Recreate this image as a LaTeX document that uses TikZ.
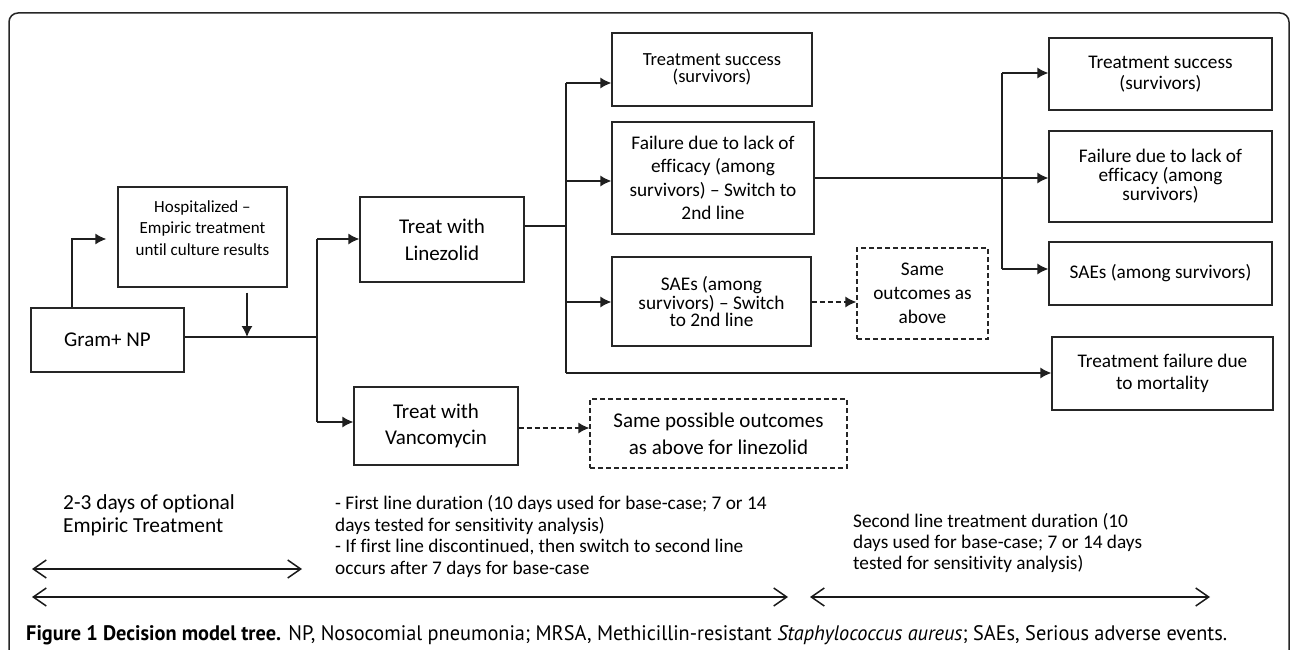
\documentclass[tikz,border=0pt]{standalone}
\usepackage{fontspec}
\usepackage{graphicx}
\setmainfont{Carlito}[Ligatures={NoCommon,NoContextual}, RawFeature={-liga;-clig;-dlig;-calt}]
\newfontfamily\capfont{PT Sans}
\usetikzlibrary{arrows.meta,calc}
\begin{document}
\begin{tikzpicture}[x=1pt,y=-1pt,
  box/.style={draw=black!85, line width=1.3pt, inner sep=0pt, align=center, text=black},
  dbox/.style={box, dash pattern=on 5pt off 3pt},
  conn/.style={line width=1.3pt, draw=black!88},
  arr/.style={conn, -{Latex[length=11pt,width=11pt]}},
  darr/.style={arr, dash pattern=on 5pt off 3pt},
  span/.style={line width=1.5pt, draw=black!90, {Straight Barb[length=13pt,width=18pt]}-{Straight Barb[length=13pt,width=18pt]}},
  note/.style={anchor=west, align=left, inner sep=0pt, text=black}]

\useasboundingbox (0,0) rectangle (1290,650);
\fill[white] (0,0) rectangle (1290,650);
\begin{scope}
\clip (0,0) rectangle (1290,650);
\draw[line width=1.5pt, draw=black!85, rounded corners=9pt] (9,670) -- (9,13) -- (1289,13) -- (1289,670);
\end{scope}

% boxes
\node[box, minimum width=169pt, minimum height=100pt] (hosp) at (202.5,237) {};
\node[align=center, inner sep=0pt, text=black, font=\fontsize{17}{21.5}\selectfont] (hosptxt) at (202.5,228) {Hospitalized --\\Empiric treatment\\until culture results};
\node[box, minimum width=153pt, minimum height=64pt, font=\fontsize{21}{26}\selectfont] (gram) at (107.5,340) {Gram+ NP};
\node[box, minimum width=164pt, minimum height=85pt, font=\fontsize{21}{27}\selectfont] (lin) at (442,239.5) {Treat with\\Linezolid};
\node[box, minimum width=164pt, minimum height=78pt, font=\fontsize{21}{26}\selectfont] (van) at (436,426) {Treat with\\Vancomycin};
\node[dbox, minimum width=257pt, minimum height=69pt, font=\fontsize{21}{27}\selectfont] (vdash) at (718.5,433.5) {Same possible outcomes\\as above for linezolid};

\node[box, minimum width=200pt, minimum height=73pt, font=\fontsize{18.5}{17}\selectfont] (ts1) at (712,69.5) {Treatment success\\(survivors)};
\node[box, minimum width=202pt, minimum height=112pt, font=\fontsize{19.3}{23.5}\selectfont] (f1) at (713,178) {Failure due to lack of\\efficacy (among\\survivors) -- Switch to\\2nd line};
\node[box, minimum width=199pt, minimum height=89pt, font=\fontsize{19.3}{16}\selectfont] (sae1) at (711.5,301.5) {SAEs (among\\survivors) -- Switch\\to 2nd line};
\node[dbox, minimum width=131pt, minimum height=91pt, font=\fontsize{19.3}{24}\selectfont] (sdash) at (922.5,293.5) {Same\\outcomes as\\above};

\node[box, minimum width=223pt, minimum height=72pt, font=\fontsize{19.3}{21}\selectfont] (ts2) at (1160.5,74) {Treatment success\\(survivors)};
\node[box, minimum width=223pt, minimum height=91pt, font=\fontsize{19.3}{19}\selectfont] (f2) at (1160.5,176.5) {Failure due to lack of\\efficacy (among\\survivors)};
\node[box, minimum width=223pt, minimum height=63pt, font=\fontsize{19.3}{21}\selectfont] (sae2) at (1160.5,273.5) {SAEs (among survivors)};
\node[box, minimum width=221pt, minimum height=73pt, font=\fontsize{19.3}{22}\selectfont] (mort) at (1162.5,373.5) {Treatment failure due\\to mortality};

% connectors
\coordinate (hup) at (72,239);
\draw[arr, shorten >=11pt] (hup |- gram.north) -- (hup) -- (hosp.west |- hup);
\coordinate (j1) at (247,337);
\draw[arr, shorten <=5pt] (hosp.south -| j1) -- (j1);
\coordinate (s1) at (317,337);
\coordinate (s1t) at (317,239);
\coordinate (s1b) at (317,422);
\draw[conn] (gram.east |- s1) -- (s1);
\draw[conn] (s1t) -- (s1b);
\draw[arr] (s1t) -- (lin.west |- s1t);
\draw[arr] (s1b) -- (van.west |- s1b);
\draw[darr] (van.east |- 0,428) -- (vdash.west |- 0,428);

\coordinate (s2) at (566,226);
\coordinate (s2t) at (566,83);
\coordinate (s2f) at (566,181);
\coordinate (s2s) at (566,302);
\coordinate (s2b) at (566,373);
\draw[conn] (lin.east |- s2) -- (s2);
\draw[conn] (s2t) -- (s2b);
\draw[arr] (s2t) -- (ts1.west |- s2t);
\draw[arr] (s2f) -- (f1.west |- s2f);
\draw[arr] (s2s) -- (sae1.west |- s2s);
\draw[arr] (s2b) -- (mort.west |- s2b);
\draw[darr] (sae1.east |- s2s) -- (sdash.west |- s2s);

\coordinate (s3) at (1002,178);
\coordinate (s3t) at (1002,73);
\coordinate (s3b) at (1002,269);
\draw[arr] (f1.east |- s3) -- (f2.west |- s3);
\draw[conn] (s3t) -- (s3b);
\draw[arr] (s3t) -- (ts2.west |- s3t);
\draw[arr] (s3b) -- (sae2.west |- s3b);

% bottom notes
\node[note, font=\fontsize{21.4}{23}\selectfont] (n1) at (63,515.5) {2-3 days of optional\\Empiric Treatment};
\node[note, font=\fontsize{19.3}{21.6}\selectfont] (n2) at (335,536.5) {- First line duration (10 days used for base-case; 7 or 14\\days tested for sensitivity analysis)\\- If first line discontinued, then switch to second line\\occurs after 7 days for base-case};
\node[note, font=\fontsize{19.3}{21}\selectfont] (n3) at (853,543) {Second line treatment duration (10\\days used for base-case; 7 or 14 days\\tested for sensitivity analysis)};

\coordinate (a1l) at (32,569);
\coordinate (a1r) at (302,569);
\coordinate (a2l) at (32,597);
\coordinate (a2r) at (788,597);
\coordinate (a3l) at (810,597);
\coordinate (a3r) at (1210,597);
\draw[span] (a1l) -- (a1r);
\draw[span] (a2l) -- (a2r);
\draw[span] (a3l) -- (a3r);

\node[anchor=west, inner sep=0pt] (cap) at (26,635) {\capfont\fontsize{21}{25}\selectfont\resizebox{1201pt}{\height}{\textbf{Figure 1 Decision model tree.} NP, Nosocomial pneumonia; MRSA, Methicillin-resistant \textit{Staphylococcus aureus}; SAEs, Serious adverse events.}};
\end{tikzpicture}
\end{document}
